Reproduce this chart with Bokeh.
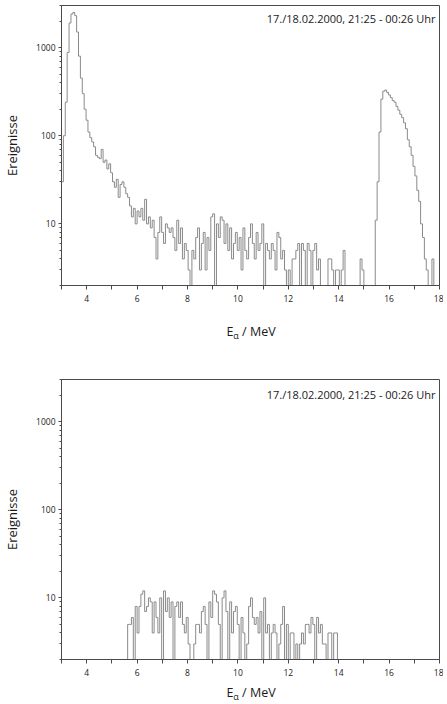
from bokeh.plotting import figure
from bokeh.models import Range1d, FixedTicker, PrintfTickFormatter, Label, Div
from bokeh.layouts import column
from bokeh.embed import file_html
from bokeh.resources import INLINE

# ---------------- data ----------------
E_MIN = 3.0
E_MAX = 18.0
BIN_WIDTH = 0.075  # MeV per channel (200 channels)

counts_top = [
    30, 100, 240, 880, 1900, 2400, 2500, 2300, 1500, 800,
    450, 300, 200, 150, 110, 95, 85, 75, 60, 57,
    55, 70, 50, 53, 42, 48, 38, 30, 26, 32,
    20, 28, 30, 26, 22, 20, 16, 12, 15, 10,
    14, 12, 15, 11, 19, 10, 12, 9, 11, 7,
    4, 8, 12, 8, 6, 10, 9, 8, 9, 7,
    5, 11, 6, 9, 4, 6, 5, 3, 1, 5,
    4, 7, 9, 3, 6, 8, 3, 7, 5, 12,
    13, 1, 10, 7, 12, 11, 6, 10, 5, 9,
    4, 6, 8, 5, 7, 3, 9, 5, 4, 7,
    10, 6, 4, 8, 5, 6, 10, 1, 6, 5,
    4, 6, 5, 3, 8, 7, 4, 5, 3, 1,
    3, 1, 4, 4, 5, 6, 1, 6, 5, 1,
    6, 5, 1, 5, 6, 3, 4, 1, 1, 1,
    1, 4, 4, 3, 1, 3, 3, 1, 3, 5,
    1, 1, 1, 1, 1, 1, 1, 1, 4, 3,
    1, 1, 1, 1, 1, 1, 11, 30, 110, 260,
    320, 330, 310, 290, 270, 250, 240, 215, 195, 175,
    160, 140, 120, 90, 75, 60, 45, 35, 24, 18,
    10, 7, 4, 3, 1, 1, 4, 1, 1, 1,
]

counts_bottom = [
    1, 1, 1, 1, 1, 1, 1, 1, 1, 1,
    1, 1, 1, 1, 1, 1, 1, 1, 1, 1,
    1, 1, 1, 1, 1, 1, 1, 1, 1, 1,
    1, 1, 1, 1, 1, 5, 5, 6, 1, 8,
    4, 8, 11, 12, 7, 8, 10, 9, 4, 9,
    6, 4, 10, 1, 12, 7, 10, 6, 9, 1,
    8, 9, 6, 9, 5, 4, 6, 3, 1, 1,
    3, 5, 5, 4, 7, 8, 5, 1, 9, 6,
    12, 11, 9, 5, 1, 10, 12, 7, 1, 9,
    4, 7, 8, 5, 1, 6, 4, 1, 3, 8,
    10, 6, 5, 6, 4, 7, 1, 10, 4, 5,
    1, 4, 5, 4, 1, 3, 5, 8, 1, 5,
    1, 4, 4, 1, 3, 1, 3, 4, 3, 5,
    5, 4, 6, 5, 1, 6, 4, 5, 3, 3,
    1, 4, 4, 1, 4, 4, 1, 1, 1, 1,
    1, 1, 1, 1, 1, 1, 1, 1, 1, 1,
    1, 1, 1, 1, 1, 1, 1, 1, 1, 1,
    1, 1, 1, 1, 1, 1, 1, 1, 1, 1,
    1, 1, 1, 1, 1, 1, 1, 1, 1, 1,
    1, 1, 1, 1, 1, 1, 1, 1, 1, 1,
]

x_major_ticks = [4, 6, 8, 10, 12, 14, 16, 18]
x_minor_ticks = [3, 5, 7, 9, 11, 13, 15, 17]
y_major_ticks = [10, 100, 1000]
y_minor_ticks = [2, 3, 4, 5, 6, 7, 8, 9, 20, 30, 40, 50, 60, 70, 80, 90,
                 200, 300, 400, 500, 600, 700, 800, 900, 2000, 3000]
y_label = "Ereignisse"
x_label_html = "E<sub style='font-size:9px;vertical-align:-3px;line-height:0'>\u03b1</sub> / MeV"
date_text = "17./18.02.2000, 21:25 - 00:26 Uhr"

FONT = "Open Sans"
LINE_COLOR = "#8a8a8a"
AXIS_COLOR = "#4a4a4a"
TEXT_COLOR = "#1a1a1a"

BORDER_L = 57
BORDER_R = 4
FRAME_W = 378
FRAME_H = 280


def make_panel(counts, border_top, border_bottom, date_y):
    p = figure(frame_width=FRAME_W, frame_height=FRAME_H, y_axis_type="log",
               x_range=Range1d(E_MIN, E_MAX), y_range=Range1d(2, 3000),
               output_backend="svg", toolbar_location=None,
               min_border_left=BORDER_L, min_border_right=BORDER_R,
               min_border_top=border_top, min_border_bottom=border_bottom)
    p.grid.visible = False
    p.outline_line_color = AXIS_COLOR
    p.outline_line_width = 1
    p.background_fill_color = "white"
    p.border_fill_color = "white"

    xs = [E_MIN + BIN_WIDTH * i for i in range(len(counts))] + [E_MAX]
    ys = list(counts) + [counts[-1]]
    p.step(xs, ys, mode="after", line_color=LINE_COLOR, line_width=1)

    for ax in (p.xaxis[0], p.yaxis[0]):
        ax.axis_line_color = AXIS_COLOR
        ax.major_tick_line_color = AXIS_COLOR
        ax.minor_tick_line_color = AXIS_COLOR
        ax.major_tick_in = 0
        ax.major_tick_out = 4
        ax.minor_tick_in = 0
        ax.minor_tick_out = 2
        ax.major_label_text_font = FONT
        ax.major_label_text_font_size = "8.5px"
        ax.major_label_text_color = TEXT_COLOR
        ax.axis_label_text_font = FONT
        ax.axis_label_text_font_style = "normal"
        ax.axis_label_text_color = TEXT_COLOR

    p.xaxis.ticker = FixedTicker(ticks=x_major_ticks, minor_ticks=x_minor_ticks)
    p.xaxis.minor_tick_out = 4
    p.xaxis.major_label_standoff = 5
    p.yaxis.ticker = FixedTicker(ticks=y_major_ticks, minor_ticks=y_minor_ticks)
    p.yaxis.formatter = PrintfTickFormatter(format="%d")
    p.yaxis.major_label_standoff = 3
    p.yaxis.major_tick_out = 3
    p.yaxis.axis_label = y_label
    p.yaxis.axis_label_text_font_size = "13px"
    p.yaxis.axis_label_standoff = 12

    p.add_layout(Label(x=17.84, y=date_y, text=date_text, text_align="right",
                       text_baseline="middle", text_font=FONT,
                       text_font_size="11px", text_color=TEXT_COLOR))
    return p


def make_xlabel(height, pad_top):
    html = ("<div style=\"width:%dpx;margin-left:%dpx;text-align:center;"
            "font-family:'Open Sans';font-size:12.5px;line-height:14px;"
            "color:%s;padding-top:%dpx\">%s</div>"
            % (FRAME_W, BORDER_L, TEXT_COLOR, pad_top, x_label_html))
    return Div(text=html, width=BORDER_L + FRAME_W + BORDER_R, height=height)


p1 = make_panel(counts_top, 5, 25, 2150)
d1 = make_xlabel(30, 10)
p2 = make_panel(counts_bottom, 29, 20, 2050)
d2 = make_xlabel(19, 2)

layout = column(p1, d1, p2, d2, spacing=0)
open("out.html", "w").write(file_html(layout, INLINE))
